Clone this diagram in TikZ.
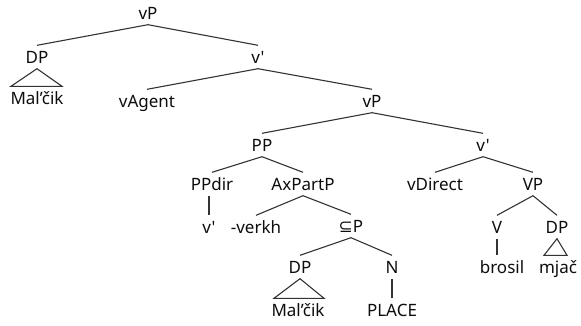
\documentclass[tikz,border=0pt]{standalone}
\usepackage{fontspec}
\newfontfamily\treefont{Noto Sans}
\newfontfamily\symfont{DejaVu Sans}
\usetikzlibrary{calc}
\begin{document}
\begin{tikzpicture}[x=1pt,y=-1pt,
  lbl/.style={font=\treefont\fontsize{17}{20}\selectfont, text=black!95, inner xsep=0pt, inner ysep=5.5pt, text height=12pt, text depth=0pt, anchor=center},
  edge/.style={draw=black!80, line width=1.1pt}]
\useasboundingbox (0,0) rectangle (581,325);
\node[lbl] (vP0) at (148,13) {vP};
\node[lbl] (DP1) at (37,57) {DP};
\node[lbl] (vb1) at (258,57) {v'};
\node[lbl] (mal1) at (37,98) {Mal’čik};
\node[lbl] (vAgent) at (147,101) {vAgent};
\node[lbl] (vP2) at (372,101) {vP};
\node[lbl] (PP) at (262,145) {PP};
\node[lbl] (vb2) at (483,145) {v'};
\node[lbl] (PPdir) at (212,184) {PPdir};
\node[lbl] (AxPartP) at (303,184) {AxPartP};
\node[lbl] (vDirect) at (435,184) {vDirect};
\node[lbl] (VP) at (533,184) {VP};
\node[lbl] (vb3) at (209,227) {v'};
\node[lbl] (verkh) at (256,227) {-verkh};
\node[lbl] (subP) at (351,226) {{\symfont ⊆}P};
\node[lbl] (V) at (497,227) {V};
\node[lbl] (DP3) at (557,227) {DP};
\node[lbl] (DP2) at (300,267) {DP};
\node[lbl] (N) at (392,267) {N};
\node[lbl] (brosil) at (502,267) {brosil};
\node[lbl] (mjac) at (558,267) {mjač};
\node[lbl] (mal2) at (298,310) {Mal’čik};
\node[lbl] (PLACE) at (392,310) {PLACE};
\draw[edge] (vP0.south) -- (DP1.north);
\draw[edge] (vP0.south) -- (vb1.north);
\draw[edge] (vb1.south) -- (vAgent.north);
\draw[edge] (vb1.south) -- (vP2.north);
\draw[edge] (vP2.south) -- (PP.north);
\draw[edge] (vP2.south) -- (vb2.north);
\draw[edge] (PP.south) -- (PPdir.north);
\draw[edge] (PP.south) -- (AxPartP.north);
\draw[edge] (vb2.south) -- (vDirect.north);
\draw[edge] (vb2.south) -- (VP.north);
\draw[edge] (vb3.north |- PPdir.south) -- (vb3.north);
\draw[edge] (AxPartP.south) -- (verkh.north);
\draw[edge] (AxPartP.south) -- (subP.north);
\draw[edge] (VP.south) -- (V.north);
\draw[edge] (VP.south) -- (DP3.north);
\draw[edge] (V.south) -- (V.south |- brosil.north);
\draw[edge] (subP.south) -- (DP2.north);
\draw[edge] (subP.south) -- (N.north);
\draw[edge] (N.south) -- (PLACE.north);
\draw[edge] (DP1.south) -- ($(mal1.north -| DP1.south)+(-26,0)$) -- ($(mal1.north -| DP1.south)+(25,0)$) -- cycle;
\draw[edge] (DP2.south) -- ($(mal2.north -| DP2.south)+(-26,0)$) -- ($(mal2.north -| DP2.south)+(24,0)$) -- cycle;
\draw[edge] (DP3.south) -- ($(mjac.north -| DP3.south)+(-13,0)$) -- ($(mjac.north -| DP3.south)+(10,0)$) -- cycle;
\end{tikzpicture}
\end{document}
